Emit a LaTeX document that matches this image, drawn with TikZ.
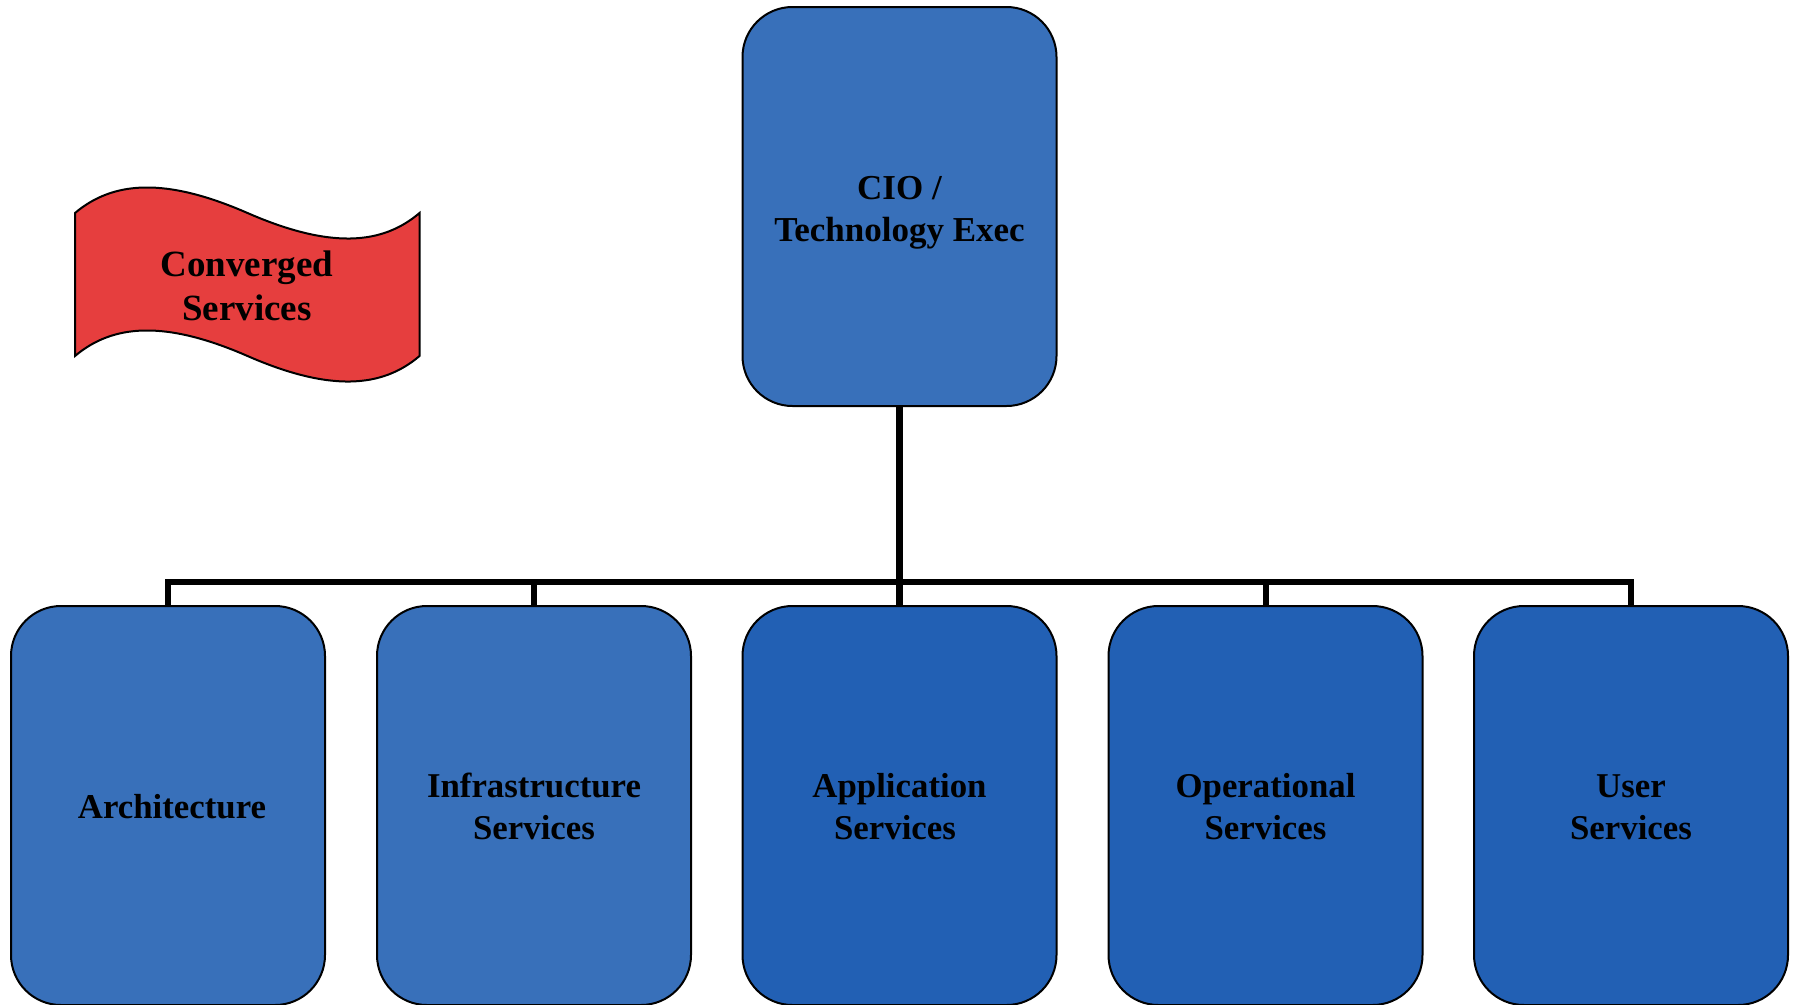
\documentclass[tikz,border=0pt]{standalone}
\usepackage{fontspec}
\setmainfont{Liberation Serif}
\definecolor{lightblue}{HTML}{3870BA}
\definecolor{darkblue}{HTML}{2260B4}
\definecolor{flagred}{HTML}{E63E3E}
\newcommand{\lineup}{\rule{0pt}{27pt}}
\tikzset{
  card/.style={draw=black, line width=2pt, rounded corners=50pt, minimum width=314pt, minimum height=399pt,
    inner sep=0pt, outer sep=0pt, align=center, font=\fontsize{34.8}{41.7}\selectfont\bfseries, text=black},
  lightcard/.style={card, fill=lightblue},
  darkcard/.style={card, fill=darkblue},
  trunkline/.style={draw=black, line width=7.5pt},
  busline/.style={draw=black, line width=6.5pt, line join=miter},
  dropline/.style={draw=black, line width=6pt},
  flagshape/.style={draw=black, line width=2pt, fill=flagred, line join=miter},
  flagtext/.style={align=center, inner sep=0pt, font=\fontsize{37}{43.5}\selectfont\bfseries, text=black}
}
\begin{document}
\begin{tikzpicture}[x=1pt,y=-1pt]
\useasboundingbox (0,0) rectangle (1793,1004);
\fill[white] (0,0) rectangle (1793,1004);
\node[lightcard, font=\fontsize{35}{41.7}\selectfont\bfseries] (cio) at (899.5,206.5) {\rule{0pt}{35.5pt}CIO /\\Technology Exec};
\node[lightcard] (arch) at (168,805.5) {\lineup\hspace*{8pt}Architecture};
\node[lightcard] (infra) at (534,805.5) {\lineup Infrastructure\\Services};
\node[darkcard] (app) at (899.5,805.5) {\lineup Application\\Services\hspace*{9pt}};
\node[darkcard] (oper) at (1265.5,805.5) {\lineup Operational\\Services};
\node[darkcard] (user) at (1631,805.5) {\lineup User\\Services};
\coordinate (busleft) at (168,582);
\coordinate (busright) at (1631,582);
\coordinate (businfra) at (534,582);
\coordinate (busoper) at (1265.5,582);
\draw[busline] (arch.north) -- (busleft) -- (busright) -- (user.north);
\draw[dropline] (businfra) -- (infra.north);
\draw[dropline] (busoper) -- (oper.north);
\draw[trunkline] (cio.south) -- (app.north);
\path[flagshape] (75,213) .. controls (113,181) and (165,177) .. (247.5,213)
   .. controls (330,249) and (382,245) .. (419.5,213)
   -- (419.5,356) .. controls (382,388) and (330,392) .. (247.5,356)
   .. controls (165,320) and (113,324) .. (75,356) -- cycle;
\node[flagtext] (flag) at (247,286) {Converged\\Services};
\end{tikzpicture}
\end{document}
